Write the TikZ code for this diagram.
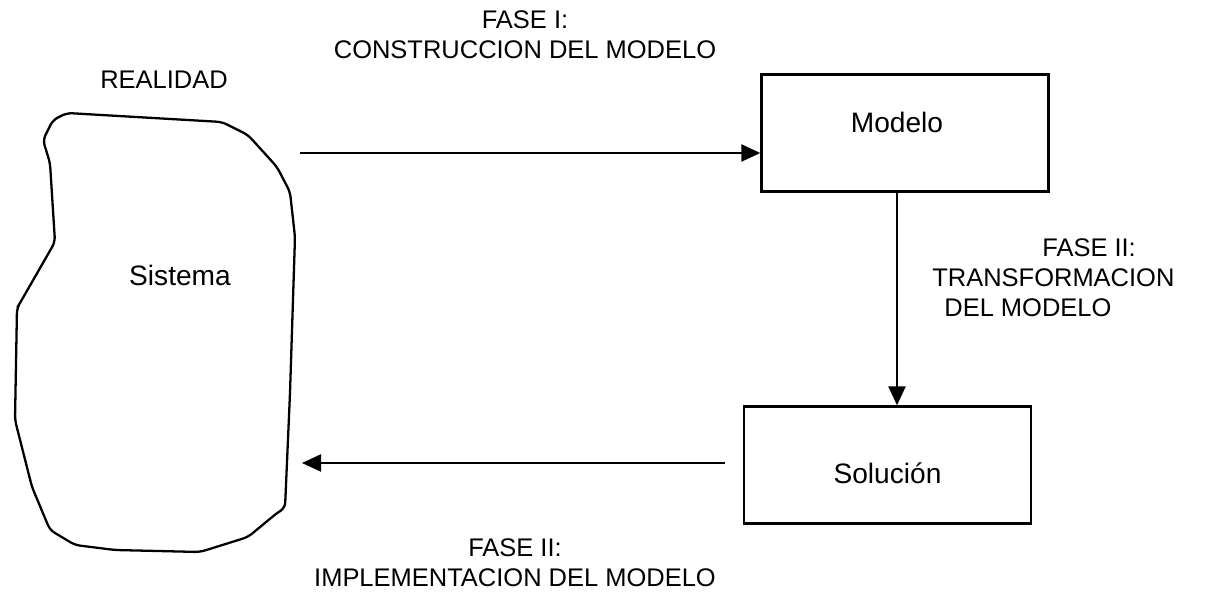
\documentclass[tikz,border=0pt]{standalone}
\usepackage{fontspec}
\setmainfont{Liberation Sans}
\usetikzlibrary{arrows.meta}

\tikzset{
	caja/.style={draw, line width=1.3pt, minimum width=5.74cm, minimum height=2.34cm, inner sep=0pt},
	fase/.style={font=\fontsize{14.5}{17}\selectfont, inner sep=0pt, align=center},
	rotulo/.style={font=\fontsize{16}{19}\selectfont, inner sep=0pt},
	flecha/.style={line width=1.3pt, -{Triangle[length=.38cm, width=.34cm]}}
}

\begin{document}
\begin{tikzpicture}
	\useasboundingbox (0, 0) rectangle (24.1, 11.86);

		\draw[line width=1.3pt, rounded corners=3pt] (1.34, 9.60) -- (4.44, 9.42) -- (4.96, 9.16) -- (5.54, 8.52)
			-- (5.80, 8.02) -- (5.90, 7.12) -- (5.80, 4.00) -- (5.70, 1.70) -- (5.54, 1.60) -- (4.96, 1.12)
			-- (4.00, 0.82) -- (2.30, 0.86) -- (1.50, 0.96) -- (1.00, 1.26) -- (0.64, 2.12) -- (0.30, 3.46)
			-- (0.34, 5.70) -- (0.40, 5.80) -- (1.10, 7.02) -- (1.00, 8.60) -- (0.86, 9.06) -- (1.06, 9.46) -- cycle;
			\node[fase] (realidad) at (3.28, 10.26){REALIDAD};
			\node[rotulo] (sistema) at (3.60, 6.36){Sistema};

		\node[caja] (modelo) at (18.10, 9.20){};
			\node[rotulo] (modelotxt) at ([xshift=-.16cm, yshift=.22cm]modelo.center){Modelo};
		\node[caja] (solucion) at (17.75, 2.56){};
			\node[rotulo] (soluciontxt) at ([yshift=-.16cm]solucion.center){Soluci\'on};

		\coordinate (salida) at (6.00, 8.80);
		\coordinate (retorno) at (6.04, 2.60);
		\draw[flecha] (salida) to (salida -| modelo.west);
		\draw[flecha] ([xshift=-.16cm]modelo.south) to ([xshift=-.16cm]modelo.south |- solucion.north);
		\draw[flecha] ([xshift=-.36cm]solucion.west |- retorno) to (retorno);

		\node[fase] (faseI) at (10.50, 11.16){FASE I:\\CONSTRUCCION DEL MODELO};
		\node[fase] (faseIII) at (10.30, 0.60){FASE II:\\IMPLEMENTACION DEL MODELO};
		\node[fase, anchor=west] (faseII) at (20.84, 6.90){FASE II:};
		\node[fase, anchor=west] (transf) at (18.64, 6.30){TRANSFORMACION};
		\node[fase, anchor=west] (delmod) at (18.88, 5.70){DEL MODELO};
\end{tikzpicture}
\end{document}
